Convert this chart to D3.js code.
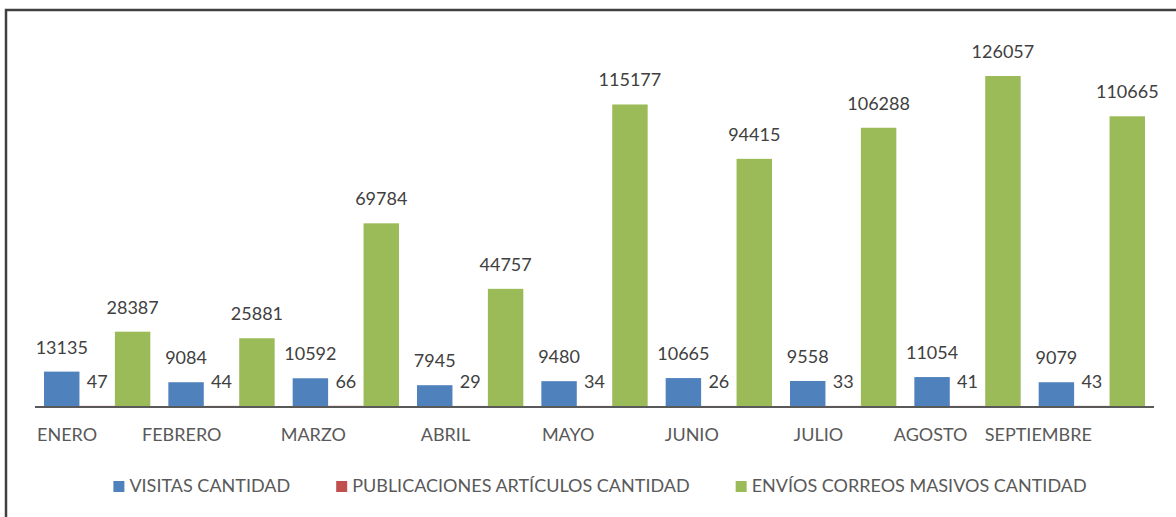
<!DOCTYPE html>
<html>
<head>
<meta charset="utf-8">
<script src="https://cdn.jsdelivr.net/npm/d3@7"></script>
<style>
  body { margin: 0; background: #fff; }
  svg { display: block; font-family: Lato, "Open Sans", sans-serif; }
</style>
</head>
<body>
<svg id="chart"></svg>
<script>
const W = 1176, H = 517;

const months = ["ENERO", "FEBRERO", "MARZO", "ABRIL", "MAYO", "JUNIO", "JULIO", "AGOSTO", "SEPTIEMBRE"];
const seriesNames = ["VISITAS CANTIDAD", "PUBLICACIONES ARTÍCULOS CANTIDAD", "ENVÍOS CORREOS MASIVOS CANTIDAD"];
const seriesColors = ["#4F81BD", "#C0504D", "#9BBB59"];
const visitas = [13135, 9084, 10592, 7945, 9480, 10665, 9558, 11054, 9079];
const publicaciones = [47, 44, 66, 29, 34, 26, 33, 41, 43];
const envios = [28387, 25881, 69784, 44757, 115177, 94415, 106288, 126057, 110665];

const seriesValues = [visitas, publicaciones, envios];

const svg = d3.select("#chart").attr("width", W).attr("height", H);

// outer frame (runs past the right/bottom edge)
svg.append("rect")
    .attr("x", 6).attr("y", 10)
    .attr("width", W + 20).attr("height", H + 20)
    .attr("fill", "none")
    .attr("stroke", "#404040")
    .attr("stroke-width", 2.5);

const baseY = 406;
const x0 = d3.scaleBand()
    .domain(months)
    .range([35, 1154])
    .paddingInner(0.145)
    .paddingOuter(0.0725);

const x1 = d3.scaleBand()
    .domain(d3.range(3))
    .range([0, x0.bandwidth()]);

const y = d3.scaleLinear()
    .domain([0, 140000])
    .range([baseY, baseY - 140000 * 330 / 126057]);

const rows = [];
months.forEach((m, i) => {
    seriesValues.forEach((vals, s) => {
        rows.push({ month: m, s: s, value: vals[i] });
    });
});

svg.append("g")
    .selectAll("rect")
    .data(rows)
    .enter()
    .append("rect")
    .attr("x", d => x0(d.month) + x1(d.s))
    .attr("y", d => y(d.value))
    .attr("width", x1.bandwidth())
    .attr("height", d => baseY - y(d.value))
    .attr("fill", d => seriesColors[d.s]);

// value labels
svg.append("g")
    .selectAll("text")
    .data(rows)
    .enter()
    .append("text")
    .attr("x", d => x0(d.month) + x1(d.s) + x1.bandwidth() / 2)
    .attr("y", d => y(d.value) - 18)
    .attr("text-anchor", "middle")
    .attr("font-size", 18)
    .attr("fill", "#404040")
    .text(d => d.value);

// axis line
svg.append("line")
    .attr("x1", 35).attr("x2", 1154)
    .attr("y1", baseY + 1).attr("y2", baseY + 1)
    .attr("stroke", "#595959")
    .attr("stroke-width", 2);

// category labels (end at the middle of each group)
svg.append("g")
    .selectAll("text")
    .data(months)
    .enter()
    .append("text")
    .attr("x", d => x0(d) + x0.bandwidth() / 2)
    .attr("y", 441)
    .attr("text-anchor", "end")
    .attr("font-size", 18)
    .attr("fill", "#595959")
    .text(d => d);

// legend
const legend = svg.append("g");
let lx = 0;
seriesNames.forEach((name, i) => {
    const item = legend.append("g").attr("transform", `translate(${lx},0)`);
    item.append("rect")
        .attr("x", 0).attr("y", 481)
        .attr("width", 11).attr("height", 11)
        .attr("fill", seriesColors[i]);
    const t = item.append("text")
        .attr("x", 16).attr("y", 492)
        .attr("font-size", 18)
        .attr("fill", "#595959")
        .text(name);
    lx += 16 + t.node().getComputedTextLength() + 46;
});
const legendWidth = lx - 46;
legend.attr("transform", `translate(${600 - legendWidth / 2},0)`);
</script>
</body>
</html>
